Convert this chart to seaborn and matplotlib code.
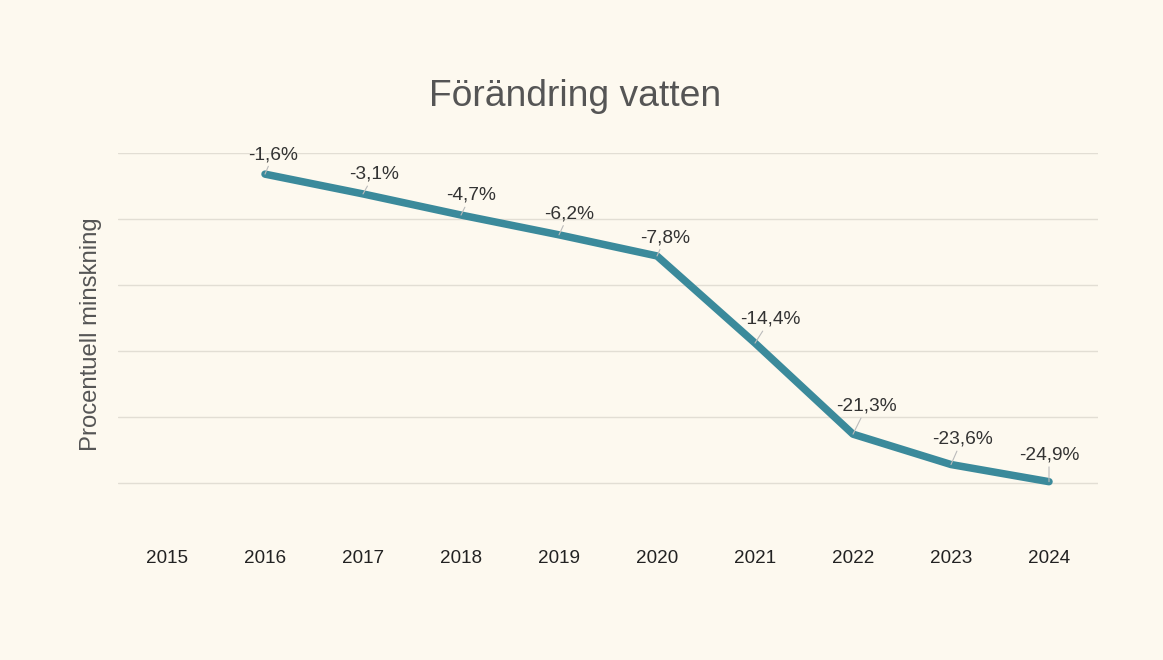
import matplotlib
matplotlib.use("Agg")
import matplotlib.pyplot as plt
import seaborn as sns
import pandas as pd

years = ["2015", "2016", "2017", "2018", "2019", "2020", "2021", "2022", "2023", "2024"]
line_years = ["2016", "2017", "2018", "2019", "2020", "2021", "2022", "2023", "2024"]
values = [-1.6, -3.1, -4.7, -6.2, -7.8, -14.4, -21.3, -23.6, -24.9]
labels = ["-1,6%", "-3,1%", "-4,7%", "-6,2%", "-7,8%", "-14,4%", "-21,3%", "-23,6%", "-24,9%"]
y_ticks = [0, -5, -10, -15, -20, -25]

bg = "#fdf9ef"
line_color = "#3b8a9b"

sns.set_theme(style="white")
plt.rcParams["font.family"] = ["Liberation Sans", "DejaVu Sans"]

fig = plt.figure(figsize=(11.63, 6.6), dpi=100, facecolor=bg)
ax = fig.add_axes([118 / 1163, 1 - 516 / 660, (1098 - 118) / 1163, (516 - 153) / 660])
ax.set_facecolor(bg)

xpos = {y: i for i, y in enumerate(years)}
df = pd.DataFrame({"x": [xpos[y] for y in line_years], "value": values})

sns.lineplot(data=df, x="x", y="value", ax=ax, color=line_color, linewidth=5.4,
             solid_capstyle="round", solid_joinstyle="round", zorder=3)

ax.set_xlim(-0.5, len(years) - 0.5)
ax.set_ylim(-27.5, 0)
ax.set_xticks(range(len(years)))
ax.set_xticklabels(years, fontsize=13.6, color="#222222")
ax.set_yticks(y_ticks)
ax.set_yticklabels([])
ax.tick_params(axis="x", length=0, pad=24.5)
ax.tick_params(axis="y", length=0)
ax.grid(axis="y", color="#e2ded4", linewidth=1)
ax.grid(axis="x", visible=False)
for s in ax.spines.values():
    s.set_visible(False)
ax.set_xlabel("")
ax.set_ylabel("Procentuell minskning", fontsize=17.2, color="#555555", labelpad=8)

offsets = [(6, 8), (8, 8), (7, 8), (7, 9), (6, 7), (11, 11), (10, 14), (8, 12), (0, 13)]
for xv, v, lab, off in zip(df["x"], values, labels, offsets):
    ax.annotate(lab, xy=(xv, v), xytext=off, textcoords="offset points",
                ha="center", va="bottom", fontsize=13.8, color="#333333",
                arrowprops=dict(arrowstyle="-", color="#bbbbbb", linewidth=0.8,
                                shrinkA=0, shrinkB=0),
                annotation_clip=False, zorder=4)

fig.text(575 / 1163, 1 - 97 / 660, "Förändring vatten", ha="center", va="center",
         fontsize=26.8, color="#555555")

fig.savefig("out.png", dpi=100, facecolor=bg)
